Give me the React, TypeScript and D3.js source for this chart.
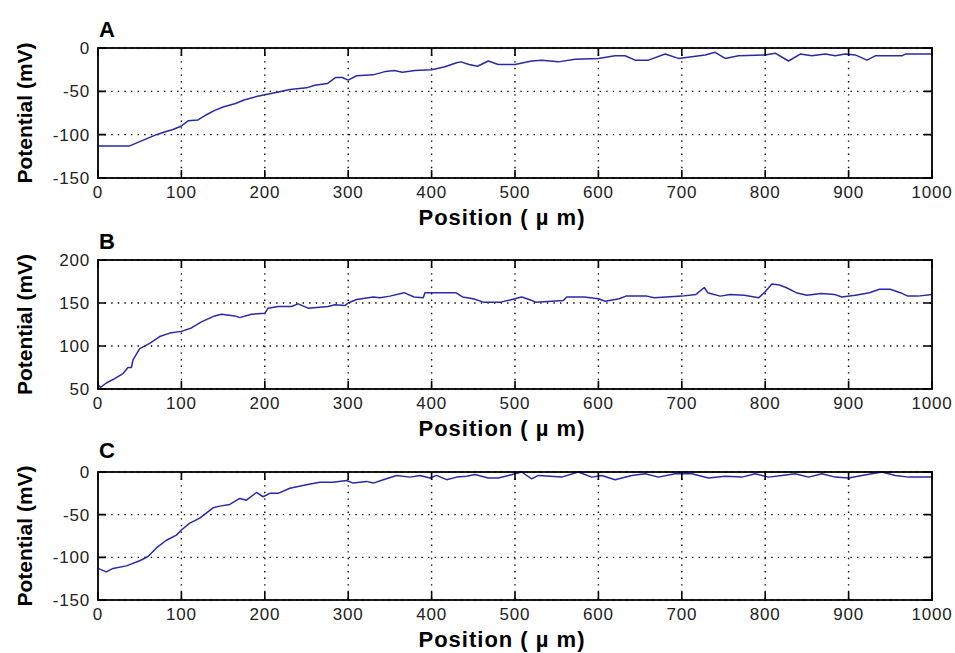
import React, { useRef, useEffect } from 'react';
import * as d3 from 'd3';

// Panel A: potential vs position
const positionsA = [0, 38, 50, 60, 70, 80, 90, 100, 108, 120, 130, 140, 150, 165, 175, 190, 200, 215, 230, 250, 260, 275, 285, 293, 300, 310, 330, 345, 355, 365, 380, 400, 415, 430, 435, 445, 455, 468, 480, 500, 520, 532, 552, 572, 600, 620, 632, 644, 660, 680, 696, 712, 728, 740, 752, 768, 800, 812, 828, 842, 856, 872, 884, 896, 908, 922, 932, 964, 968, 1000];
const potentialA = [-113, -113, -108, -104, -100, -97, -94, -90, -84, -83, -77, -72, -68, -64, -60, -56, -54, -51, -48, -46, -43, -41, -34, -34, -37, -32, -31, -27, -26, -28, -26, -25, -22, -17, -16, -19, -21, -15, -19, -19, -15, -14, -16, -13, -12, -9, -9, -14, -14, -7, -12, -10, -8, -5, -12, -9, -8, -6, -15, -7, -9, -7, -9, -7, -8, -14, -9, -9, -7, -7];

// Panel B
const positionsB = [0, 3, 10, 20, 30, 36, 40, 42, 50, 62, 74, 86, 100, 112, 124, 140, 148, 164, 170, 184, 200, 204, 216, 232, 240, 252, 276, 284, 296, 300, 310, 330, 338, 350, 367, 379, 390, 392, 429, 437, 450, 462, 483, 500, 508, 517, 525, 558, 562, 583, 600, 608, 625, 633, 658, 667, 700, 717, 727, 731, 746, 758, 775, 792, 800, 808, 817, 825, 837, 850, 867, 883, 892, 908, 925, 937, 950, 962, 971, 983, 1000];
const potentialB = [55, 52, 57, 62, 68, 75, 75, 84, 97, 103, 111, 115, 117, 121, 128, 135, 137, 135, 133, 137, 138, 144, 146, 146, 149, 144, 146, 148, 147, 150, 154, 157, 156, 158, 162, 157, 156, 162, 162, 157, 155, 151, 151, 155, 157, 154, 151, 153, 157, 157, 155, 152, 155, 158, 158, 156, 158, 160, 168, 162, 158, 160, 159, 156, 163, 172, 171, 168, 162, 159, 161, 160, 157, 159, 162, 166, 166, 162, 158, 158, 160];

// Panel C
const positionsC = [0, 10, 18, 34, 50, 60, 70, 82, 94, 100, 110, 122, 138, 146, 158, 170, 178, 190, 198, 206, 216, 230, 250, 266, 282, 298, 306, 322, 330, 342, 358, 374, 386, 398, 406, 418, 430, 442, 452, 468, 480, 492, 508, 520, 528, 556, 576, 592, 604, 620, 640, 656, 672, 692, 712, 732, 752, 772, 788, 804, 820, 836, 852, 868, 884, 900, 916, 940, 956, 972, 1000];
const potentialC = [-113, -117, -113, -110, -104, -99, -89, -80, -74, -68, -60, -54, -42, -40, -38, -31, -33, -24, -29, -25, -25, -19, -15, -12, -12, -10, -13, -11, -13, -9, -4, -6, -4, -7, -4, -9, -6, -5, -3, -7, -7, -4, 0, -8, -4, -6, 0, -6, -4, -9, -4, -2, -6, -2, -2, -7, -5, -6, -2, -6, -4, -2, -6, -2, -6, -7, -4, 0, -4, -6, -6];

const xTicks = [0, 100, 200, 300, 400, 500, 600, 700, 800, 900, 1000];
const yTicksNeg = [0, -50, -100, -150];
const yTicksPos = [200, 150, 100, 50];
const panelTitles = ['A', 'B', 'C'];

const FONT = '"Liberation Sans", Arial, Helvetica, sans-serif';
const LINE_COLOR = '#2a2aa6';

const panels = [
  { title: panelTitles[0], xs: positionsA, ys: potentialA, domain: [-150, 0], ticks: yTicksNeg, top: 48, height: 130, titleY: 37 },
  { title: panelTitles[1], xs: positionsB, ys: potentialB, domain: [50, 200], ticks: yTicksPos, top: 260, height: 129, titleY: 249 },
  { title: panelTitles[2], xs: positionsC, ys: potentialC, domain: [-150, 0], ticks: yTicksNeg, top: 472, height: 128, titleY: 458 },
];

const App = () => {
  const svgRef = useRef(null);
  const width = 955;
  const height = 653;
  const left = 98;
  const right = 932;

  useEffect(() => {
    const svg = d3.select(svgRef.current);
    svg.selectAll('*').remove();

    svg.append('rect').attr('width', width).attr('height', height).attr('fill', '#fff');

    const x = d3.scaleLinear().domain([0, 1000]).range([left, right]);

    panels.forEach(p => {
      const bottom = p.top + p.height;
      const y = d3.scaleLinear().domain(p.domain).range([bottom, p.top]);
      const g = svg.append('g');

      // dotted grid
      g.selectAll('.vgrid')
        .data(xTicks.slice(1, -1))
        .enter()
        .append('line')
        .attr('x1', d => x(d)).attr('x2', d => x(d))
        .attr('y1', p.top).attr('y2', bottom)
        .attr('stroke', '#000').attr('stroke-width', 1.4)
        .attr('stroke-dasharray', '1.4,5.2');
      g.selectAll('.hgrid')
        .data(p.ticks)
        .enter()
        .append('line')
        .attr('x1', left).attr('x2', right)
        .attr('y1', d => y(d)).attr('y2', d => y(d))
        .attr('stroke', '#000').attr('stroke-width', 1.4)
        .attr('stroke-dasharray', '1.4,5.2');

      // data line
      const pts = p.xs.map((v, i) => [v, p.ys[i]]);
      const line = d3.line().x(d => x(d[0])).y(d => y(d[1]));
      g.append('path')
        .datum(pts)
        .attr('d', line)
        .attr('fill', 'none')
        .attr('stroke', LINE_COLOR)
        .attr('stroke-width', 1.5)
        .attr('stroke-linejoin', 'round');

      // inward ticks on all four sides
      const tick = 8;
      g.selectAll('.xt')
        .data(xTicks)
        .enter()
        .append('path')
        .attr('d', d => `M${x(d)},${bottom}v${-tick}M${x(d)},${p.top}v${tick}`)
        .attr('stroke', '#000').attr('stroke-width', 1.6);
      g.selectAll('.yt')
        .data(p.ticks)
        .enter()
        .append('path')
        .attr('d', d => `M${left},${y(d)}h${tick}M${right},${y(d)}h${-tick}`)
        .attr('stroke', '#000').attr('stroke-width', 1.6);

      // frame
      g.append('rect')
        .attr('x', left).attr('y', p.top)
        .attr('width', right - left).attr('height', p.height)
        .attr('fill', 'none').attr('stroke', '#000').attr('stroke-width', 1.8);

      // tick labels
      g.selectAll('.xl')
        .data(xTicks)
        .enter()
        .append('text')
        .attr('x', d => x(d)).attr('y', bottom + 20)
        .attr('text-anchor', 'middle')
        .attr('font-family', FONT).attr('font-size', 17)
        .attr('letter-spacing', 0.8)
        .attr('fill', '#222')
        .text(d => d);
      g.selectAll('.yl')
        .data(p.ticks)
        .enter()
        .append('text')
        .attr('x', left - 8).attr('y', d => y(d) + 6)
        .attr('text-anchor', 'end')
        .attr('font-family', FONT).attr('font-size', 17)
        .attr('letter-spacing', 0.8)
        .attr('fill', '#222')
        .text(d => d);

      // titles and axis labels
      g.append('text')
        .attr('x', 99).attr('y', p.titleY)
        .attr('font-family', FONT).attr('font-size', 22).attr('font-weight', 'bold')
        .text(p.title);
      g.append('text')
        .attr('transform', `translate(32,${p.top + p.height / 2})rotate(-90)`)
        .attr('text-anchor', 'middle')
        .attr('font-family', FONT).attr('font-size', 21).attr('font-weight', 'bold')
        .text('Potential (mV)');
      g.append('text')
        .attr('x', 502).attr('y', bottom + 47)
        .attr('text-anchor', 'middle')
        .attr('font-family', FONT).attr('font-size', 22).attr('font-weight', 'bold')
        .attr('letter-spacing', 1)
        .text('Position ( \u00b5 m)');
    });
  }, []);

  return (
    <svg
      ref={svgRef}
      width={width}
      height={height}
      style={{ position: 'absolute', left: 0, top: 0 }}
    />
  );
};

export default App;
